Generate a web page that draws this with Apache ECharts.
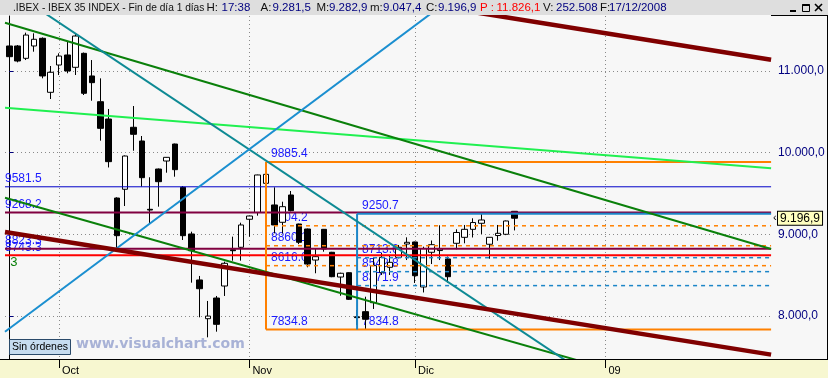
<!DOCTYPE html>
<html><head><meta charset="utf-8">
<script src="https://cdn.jsdelivr.net/npm/echarts@6/dist/echarts.min.js"></script>
<style>html,body{margin:0;padding:0;background:#f7f7f7}#c{width:828px;height:378px}</style>
</head><body><div id="c"></div><script>
// ---- data (x = trading-day index, 0 = 23 Sep 2008, 61 = 17 Dec 2008) ----
const opens  = [11305,11305,11154,11305,11399,10738,11072,11195,11044,11215,10938,10623,10411,9444,9551,10310,10142,9306,9799,9897,10105,9575,9004,8441,7967,8220,8367,8811,8841,9184,9267,9624,9359,9147,9481,9126,9065,8685,9061,8780,8477,8530,7990,8053,8163,8530,8596,8718,8881,8906,8355,8780,8801,8698,8890,8963,9061,9135,8878,8985,9000,9281.5];
const closes = [11174,11121,11439,11387,10938,10983,11182,10999,11427,10726,10856,10297,9889,8983,9958,10224,9693,9297,9644,9942,9791,8983,8799,8334,7999,7898,8645,8799,9114,9224,9726,9734,9114,9338,9289,8902,8636,8726,8820,8481,8523,8204,7980,7960,8616,8718,8657,8841,8902,8493,8826,8873,8820,8481,9022,9061,9144,9175,8963,9012,9163,9196.9];
const lows   = [11093,11105,11133,11235,10909,10656,10950,10971,10950,10705,10635,10146,9818,8808,9346,10023,9583,9135,9338,9754,9705,8930,8408,7984,7739,7808,8245,8677,8677,8971,9228,9502,9012,9012,9280,8880,8596,8523,8787,8475,8248,8196,7890,7834.8,8086,8502,8502,8705,8685,8404,8288,8636,8685,8408,8816,8890,8961,9004,8701,8922,8990,9047.4];
const highs  = [11317,11317,11468,11460,11410,11060,11215,11357,11452,11225,11133,10909,10534,9453,9965,10570,10203,9698,9805,9945,10110,9591,9032,8490,8184,8245,8665,8971,9142,9230,9730,9885.4,9575,9399,9530,9130,9070,8829,9065,8785,8530,8535,8073,8236,8718,8771,8747,8869,8963,8910,8848,8924,9110,8728,9061,9114,9196,9257,8965,9114,9168,9282.9];
const lastClose = 9196.9;

// x axis ticks (trading-day index) and labels
const monthTicks  = [6, 29, 49, 72];
const monthLabels = ['Oct', 'Nov', 'Dic', '09'];
const priceTicks  = [8000, 9000, 10000, 11000];

// trend lines: [x0, y0, x1, y1]
const channelTop    = [47.2, 11864, 92, 11137];
const channelBottom = [-0.52, 9028, 92, 7527];
const greenUpper    = [-0.52, 11590, 92, 8821];
const greenLower    = [-0.52, 9448, 68.92, 7449];
const limeLine      = [-0.52, 10550, 92, 9808];
const tealLine      = [-0.52, 12032, 71.34, 7175];
const blueRising    = [-0.52, 7808, 52.02, 11785];

// horizontal levels across the whole chart
const levelBlue   = 9581.5;
const levelMaroon = [9268.2, 8823.3];
const levelRed    = 8743.3;

// retracement boxes
const orangeStart = 31, orangeHigh = 9885.4, orangeLow = 7834.8;
const orangeFibs  = [9104.2, 8860.1, 8616.0];
const blueStart   = 42, blueHigh = 9250.7, blueLow = 7834.8;
const blueFibs    = [8713.6, 8542.8, 8371.9];
const xEnd = 92;

// level label texts with anchor points
const labelText = ['9581.5','9268.2','8823.3','8743.3','3',
  '9885.4','9104.2','8860.1','8616.0','7834.8',
  '9250.7','8713.6','8542.8','8371.9','7834.8'];
const labelX = [-0.52,-0.52,-0.52,-0.52,0.1, 31,31,31,31,31, 42,42,42,42,42];
const labelY = [9581.5,9268.2,8823.3,8743.3,8657, 9885.4,9104.2,8860.1,8616.0,7834.8, 9250.7,8713.6,8542.8,8371.9,7834.8];

// header texts
const headerItems = [
  ['.IBEX - IBEX 35 INDEX - Fin de día 1 días', 'k'],
  ['H:', 'k'], ['17:38', 'v'], ['A:', 'k'], ['9.281,5', 'v'], ['M:', 'k'], ['9.282,9', 'v'],
  ['m:', 'k'], ['9.047,4', 'v'], ['C:', 'k'], ['9.196,9', 'v'], ['P :', 'r'], ['11.826,1', 'r'],
  ['V:', 'k'], ['252.508', 'v'], ['F:', 'k'], ['17/12/2008', 'v']
];
const headerX = [13, 206.5, 221.5, 260.5, 272.5, 316.5, 329, 370, 383, 426, 438, 480, 496.5, 543, 556, 600, 609];

// ---- build ----
const FONT = '"Liberation Sans", Arial, sans-serif';
const candleData = opens.map((o, i) => [i, o, closes[i], lows[i], highs[i]]);
function seg(a, color, width, type, z) {
  return {type:'line', data:[[a[0],a[1]],[a[2],a[3]]], symbol:'none', silent:true, animation:false,
    lineStyle:{color, width, type: type || 'solid'}, z: z || 4};
}
function fmtPrice(v) {
  const s = v.toFixed(1).split('.');
  return s[0].replace(/\B(?=(\d{3})+(?!\d))/g, '.') + ',' + s[1];
}
const series = [];
series.push({
  type:'candlestick', data:candleData, encode:{x:0, y:[1,2,3,4]}, barWidth:6, z:3, animation:false, silent:true,
  itemStyle:{color:'#ffffff', color0:'#000000', borderColor:'#000000', borderColor0:'#000000', borderWidth:1},
  markLine:{silent:true, animation:false, symbol:['none','none'], lineStyle:{width:0, color:'transparent'},
    data:[{yAxis:lastClose}],
    label:{position:'end', distance:7, formatter:() => fmtPrice(lastClose), color:'#000', fontSize:12, fontFamily:FONT,
      backgroundColor:'#ffffc0', borderColor:'#000', borderWidth:1, padding:[1,2,0,2]}}
});
series.push(seg([-0.52, levelBlue, xEnd, levelBlue], '#0000c8', 1));
levelMaroon.forEach(v => series.push(seg([-0.52, v, xEnd, v], '#800040', 2)));
series.push(seg([-0.52, levelRed, xEnd, levelRed], '#ff0000', 2));
orangeFibs.forEach(v => series.push(seg([orangeStart, v, xEnd, v], '#ff8000', 1.5, [4,4])));
series.push(seg([orangeStart, orangeHigh, xEnd, orangeHigh], '#ff8000', 2));
series.push(seg([orangeStart, orangeLow, xEnd, orangeLow], '#ff8000', 2));
series.push(seg([orangeStart, orangeLow, orangeStart, orangeHigh], '#ff8000', 2));
blueFibs.forEach(v => series.push(seg([blueStart, v, xEnd, v], '#1c86c8', 1.5, [4,4])));
series.push(seg([blueStart, blueHigh, xEnd, blueHigh], '#1c86c8', 2));
series.push(seg([blueStart, blueLow, blueStart, blueHigh], '#1c86c8', 2));
series.push(seg(limeLine, '#20f050', 2));
series.push(seg(greenUpper, '#0a800a', 2));
series.push(seg(greenLower, '#0a800a', 2));
series.push(seg(tealLine, '#0e8a94', 2));
series.push(seg(blueRising, '#1b8fd0', 2));
series.push(seg(channelTop, '#800000', 4.5));
series.push(seg(channelBottom, '#800000', 4.5));
series.push({
  type:'custom', z:2, silent:true, animation:false,
  data: labelX.map((x, i) => [x, labelY[i]]), encode:{x:0, y:1},
  renderItem(params, api) {
    const i = params.dataIndex;
    const p = api.coord([api.value(0), api.value(1)]);
    const isGreen = labelText[i] === '3';
    const dx = labelX[i] < 0 ? 0 : (isGreen ? 0 : 5);
    const dy = isGreen ? 0 : -8;
    return {type:'text', x:p[0] + dx, y:p[1] + dy,
      style:{text:labelText[i], fill: isGreen ? '#0a800a' : '#1a1aff', font: (isGreen ? '13px ' : '12px ') + FONT,
        align:'left', verticalAlign:'middle', textAlign:'left', textVerticalAlign:'middle'}};
  }
});

const headerColors = {k:'#101010', v:'#000080', r:'#ff0000'};
const headerTexts = headerItems.map((it, i) => ({type:'text', z:101, x:headerX[i], y:8,
  style:{text:it[0], fill:headerColors[it[1]], font:(i === 0 ? '10.2px ' : '11.5px ') + FONT, verticalAlign:'middle'}}));

const dotted = {show:true, lineStyle:{color:'#8a8a8a', width:1, type:[1,3]}};
const option = {
  backgroundColor:'#f7f7f7',
  animation:false,
  grid:{left:5, right:57, top:16, bottom:19, containLabel:false},
  xAxis:{type:'value', min:-0.52, max:91.99,
    axisLine:{show:true, onZero:false, lineStyle:{color:'#000', width:1}},
    axisTick:{show:true, customValues:monthTicks, length:9, lineStyle:{color:'#000'}},
    axisLabel:{customValues:monthTicks, formatter: v => monthLabels[monthTicks.indexOf(v)] || '',
      align:'left', margin:6, padding:[0,0,0,3], color:'#000', fontSize:11, fontFamily:FONT},
    splitLine:dotted},
  yAxis:{type:'value', position:'right', min:7473.6, max:11672, scale:true,
    axisLine:{show:true, lineStyle:{color:'#000', width:1}},
    axisTick:{show:true, customValues:priceTicks, length:4, lineStyle:{color:'#000080'}},
    axisLabel:{customValues:priceTicks, formatter: fmtPrice, margin:7, color:'#000080', fontSize:12, fontFamily:FONT},
    splitLine:dotted},
  series,
  graphic:[
    {type:'rect', z:-1, shape:{x:0, y:359, width:828, height:19}, style:{fill:'#f7f7d0'}},
    {type:'line', z:5, shape:{x1:0, y1:359.5, x2:828, y2:359.5}, style:{stroke:'#000', lineWidth:1}},
    {type:'line', z:5, shape:{x1:771, y1:15.5, x2:828, y2:15.5}, style:{stroke:'#000', lineWidth:1}},
    {type:'line', z:5, shape:{x1:827.5, y1:15, x2:827.5, y2:359}, style:{stroke:'#000', lineWidth:1}},
    {type:'rect', z:100, shape:{x:0, y:0, width:828, height:15}, style:{fill:'#dedede'}},
    {type:'group', z:101, children: headerTexts.concat([
      {type:'line', z:101, shape:{x1:790, y1:11, x2:796, y2:11}, style:{stroke:'#000', lineWidth:2}},
      {type:'rect', z:101, shape:{x:802.5, y:4.5, width:7, height:7}, style:{fill:'none', stroke:'#000', lineWidth:1}},
      {type:'line', z:101, shape:{x1:802.5, y1:5, x2:809.5, y2:5}, style:{stroke:'#000', lineWidth:2}},
      {type:'line', z:101, shape:{x1:815, y1:4, x2:822, y2:11}, style:{stroke:'#000', lineWidth:1.6}},
      {type:'line', z:101, shape:{x1:822, y1:4, x2:815, y2:11}, style:{stroke:'#000', lineWidth:1.6}}
    ])},
    {type:'text', z:6, x:773, y:218, style:{text:'‹', fill:'#000', font:'11px '+FONT, verticalAlign:'middle'}},
    {type:'rect', z:6, shape:{x:9.5, y:339.5, width:61, height:15}, style:{fill:'#c6dcf0', stroke:'#2a4a6a', lineWidth:1}},
    {type:'text', z:7, x:40, y:347.5, style:{text:'Sin órdenes', fill:'#000', font:'10.5px '+FONT, align:'center', verticalAlign:'middle'}},
    {type:'text', z:1, x:76, y:344, style:{text:'www.visualchart.com', fill:'#a8b2d6', font:'bold 14px "DejaVu Sans", Verdana, sans-serif', verticalAlign:'middle'}}
  ]
};
const chart = echarts.init(document.getElementById('c'), null, {renderer:'canvas'});
chart.setOption(option);
</script></body></html>
